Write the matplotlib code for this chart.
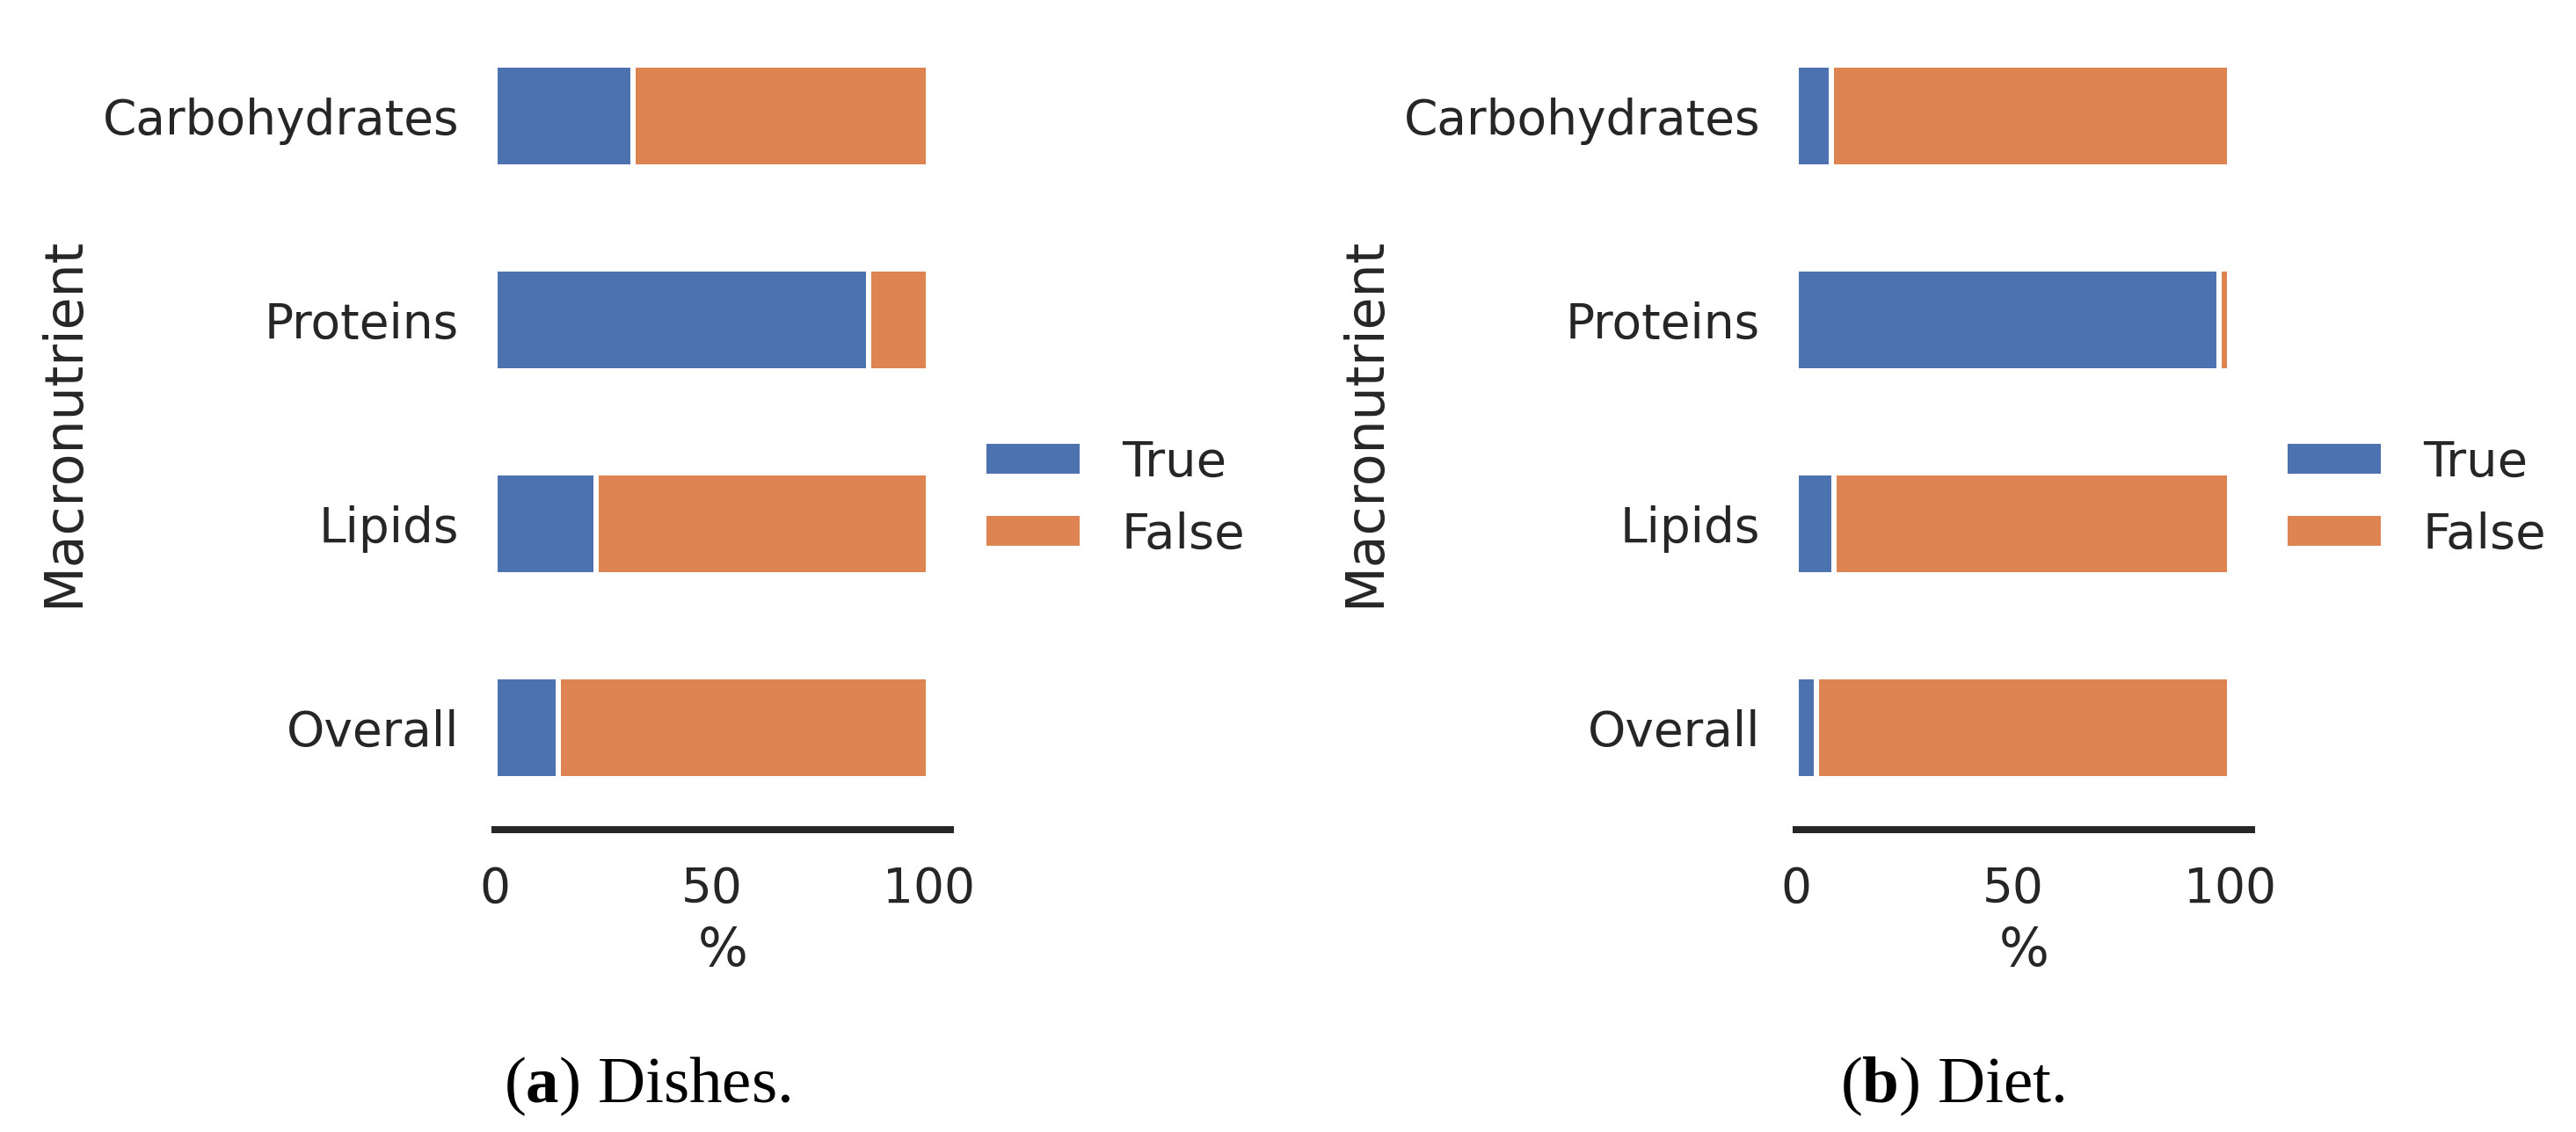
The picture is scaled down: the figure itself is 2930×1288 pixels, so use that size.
import matplotlib
matplotlib.use('Agg')
import matplotlib.pyplot as plt
from matplotlib.patches import Patch

# data, bottom to top
categories = ['Overall', 'Lipids', 'Proteins', 'Carbohydrates']
dishes_true  = [14.6, 23.3, 86.1, 31.8]
dishes_false = [85.4, 76.7, 13.9, 68.2]
diet_true    = [4.7, 8.7, 97.6, 8.1]
diet_false   = [95.3, 91.3, 2.4, 91.9]
xticks = [0, 50, 100]
captions = [r'($\mathbf{a}$) Dishes.', r'($\mathbf{b}$) Diet.']

blue   = '#4C72B0'
orange = '#DD8452'
dark   = '#262626'

plt.rcParams['mathtext.fontset'] = 'custom'
plt.rcParams['mathtext.rm'] = 'Liberation Serif'
plt.rcParams['mathtext.bf'] = 'Liberation Serif:bold'

W, H = 2930, 1288
fig = plt.figure(figsize=(W / 100, H / 100), dpi=100)

def px(v):
    # pixels -> points at dpi 100
    return v * 0.72

edge_lw = px(6)

def draw_panel(left_px, t_vals, f_vals, cap, cap_x):
    ax = fig.add_axes([left_px / W, 1 - 944 / H, 518 / W, 928 / H])
    y = list(range(len(categories)))
    ax.barh(y, t_vals, height=0.5, color=blue, edgecolor='white', linewidth=edge_lw, label='True')
    ax.barh(y, f_vals, left=t_vals, height=0.5, color=orange, edgecolor='white', linewidth=edge_lw, label='False')
    ax.set_xlim(0, 105)
    ax.set_ylim(-0.5, 3.5)
    ax.set_yticks(y)
    ax.set_yticklabels(categories)
    ax.set_xticks(xticks)
    for s in ['top', 'right', 'left']:
        ax.spines[s].set_visible(False)
    ax.spines['bottom'].set_linewidth(px(8))
    ax.spines['bottom'].set_color(dark)
    ax.tick_params(axis='both', length=0, pad=px(41), labelsize=px(55), colors=dark)
    ax.set_ylabel('Macronutrient', fontsize=px(60), color=dark)
    ax.yaxis.set_label_coords(-0.89, 0.5)
    ax.set_xlabel('%', fontsize=px(60), color=dark)
    ax.xaxis.set_label_coords(0.5, -0.1175)

    handles = [Patch(facecolor=blue, edgecolor='white', linewidth=edge_lw, label='True'),
               Patch(facecolor=orange, edgecolor='white', linewidth=edge_lw, label='False')]
    leg = ax.legend(handles=handles, loc='center left', bbox_to_anchor=(1.0734, 0.4057),
                    frameon=False, borderaxespad=0, borderpad=0, fontsize=px(56))
    for t in leg.get_texts():
        t.set_color(dark)

    fig.text(cap_x / W, 1 - 1254 / H, cap, ha='center', va='baseline',
             fontsize=px(75), family='Liberation Serif', color='black')
    return ax

draw_panel(563, dishes_true, dishes_false, captions[0], 736)
draw_panel(2043, diet_true, diet_false, captions[1], 2221)

fig.savefig('out.png', dpi=100)
